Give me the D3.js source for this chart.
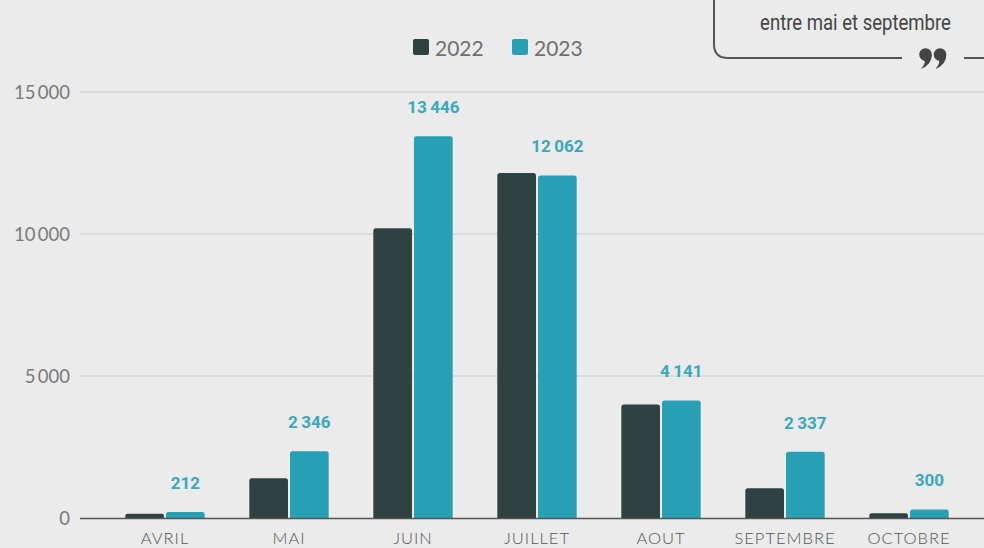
<!DOCTYPE html>
<html><head><meta charset="utf-8">
<script src="https://cdn.jsdelivr.net/npm/d3@7/dist/d3.min.js"></script>
<style>
html,body{margin:0;padding:0;background:#ebebeb;overflow:hidden}
svg{display:block}
</style></head>
<body>
<svg id="chart" width="984" height="548"></svg>
<script>
const months = ["AVRIL","MAI","JUIN","JUILLET","AOUT","SEPTEMBRE","OCTOBRE"];
const years = ["2022","2023"];
const values2022 = [150, 1400, 10200, 12150, 4000, 1050, 170];
const values2023 = [212, 2346, 13446, 12062, 4141, 2337, 300];
const yTicks = [0, 5000, 10000, 15000];
const colors = {"2022":"#2f4141","2023":"#27a0b5"};
const annotationText = "entre mai et septembre";

const svg = d3.select("#chart");
const W = 984, H = 548;
svg.append("rect").attr("width",W).attr("height",H).attr("fill","#ebebeb");

const y = d3.scaleLinear().domain([0,15000]).range([518,92]);
const x0 = d3.scaleBand().domain(months).range([103,971]).paddingInner(0.36).paddingOuter(0.18);
const x1 = d3.scaleBand().domain(years).range([0,x0.bandwidth()]).paddingInner(0.05);

const fmt = v => d3.format(",")(v).replace(/,/g,"\u2009");

// grid
const grid = svg.append("g");
grid.selectAll("line").data(yTicks.filter(t=>t>0)).join("line")
  .attr("x1",80).attr("x2",W).attr("y1",d=>y(d)).attr("y2",d=>y(d))
  .attr("stroke","#c9c9c9").attr("stroke-width",1.2);

// y axis labels
const yAxis = d3.axisLeft(y).tickValues(yTicks).tickSize(0).tickPadding(0)
  .tickFormat(d=>d===0?"0":d3.format(",")(d).replace(/,/g,"\u2009"));
const gy = svg.append("g").attr("transform","translate(70,0)").call(yAxis);
gy.select(".domain").remove();
gy.selectAll("text").attr("fill","#7a7a7a").attr("font-family","Lato, 'Open Sans', sans-serif")
  .attr("font-size",18.5).attr("dy","0.35em");

// bars
const rows = months.map((m,i)=>({month:m, vals:[{year:"2022",v:values2022[i]},{year:"2023",v:values2023[i]}]}));
const groups = svg.append("g").selectAll("g").data(rows).join("g")
  .attr("transform",d=>`translate(${x0(d.month)},0)`);
groups.selectAll("path").data(d=>d.vals).join("path")
  .attr("fill",d=>colors[d.year])
  .attr("d",d=>{
    const bx=x1(d.year), bw=x1.bandwidth(), top=y(d.v), bot=y(0), r=Math.min(2.5,(bot-top)/2);
    return `M${bx},${bot}V${top+r}Q${bx},${top} ${bx+r},${top}H${bx+bw-r}Q${bx+bw},${top} ${bx+bw},${top+r}V${bot}Z`;
  });

// value labels 2023
groups.append("text")
  .attr("x",d=>x1("2023")+x1.bandwidth()/2)
  .attr("y",d=>y(d.vals[1].v)-23)
  .attr("text-anchor","middle")
  .attr("fill","#3aa8bf").attr("font-family","Roboto, sans-serif").attr("font-weight","bold")
  .attr("font-size",17)
  .text(d=>fmt(d.vals[1].v));

// baseline
svg.append("line").attr("x1",80).attr("x2",W).attr("y1",y(0)+0.5).attr("y2",y(0)+0.5)
  .attr("stroke","#555").attr("stroke-width",1.6);

// x axis labels
const xAxis = d3.axisBottom(x0).tickSize(0).tickPadding(0);
const gx = svg.append("g").attr("transform","translate(0,543.5)").call(xAxis);
gx.select(".domain").remove();
gx.selectAll("text").attr("fill","#555").attr("font-family","Lato, 'Open Sans', sans-serif")
  .attr("font-weight",300).attr("font-size",16.5).attr("letter-spacing","1px").attr("dy","0");

// legend
const leg = svg.append("g");
const legItems = [{k:"2022",x:413},{k:"2023",x:512}];
leg.selectAll("rect").data(legItems).join("rect")
  .attr("x",d=>d.x).attr("y",39).attr("width",16).attr("height",16).attr("rx",2)
  .attr("fill",d=>colors[d.k]);
leg.selectAll("text").data(legItems).join("text")
  .attr("x",d=>d.x+22).attr("y",48).attr("dy","0.36em")
  .attr("fill","#707070").attr("font-family","Lato, 'Open Sans', sans-serif").attr("font-size",21)
  .text(d=>d.k);

// annotation box
const ann = svg.append("g");
ann.append("path")
  .attr("d","M714,-2V44Q714,58 728,58H902")
  .attr("fill","none").attr("stroke","#555").attr("stroke-width",2);
ann.append("path").attr("d","M964,58H986").attr("fill","none").attr("stroke","#555").attr("stroke-width",2);
const annT = ann.append("text").attr("x",0).attr("y",0).attr("text-anchor","middle")
  .attr("fill","#444").attr("font-family","Roboto, sans-serif")
  .attr("font-size",22).text(annotationText);
const natural = annT.node().getComputedTextLength();
annT.attr("transform",`translate(855.5,30) scale(${191/natural},1)`);
// decorative closing quote mark
[925.5, 940].forEach(cx=>{
  ann.append("circle").attr("cx",cx).attr("cy",54.5).attr("r",6.3).attr("fill","#444");
  ann.append("path").attr("fill","#444")
    .attr("d",`M${cx+6.3},54.5 Q${cx+6.5},65 ${cx-5},69 Q${cx+0.5},64 ${cx-1},60 Z`);
});
</script>
</body></html>
